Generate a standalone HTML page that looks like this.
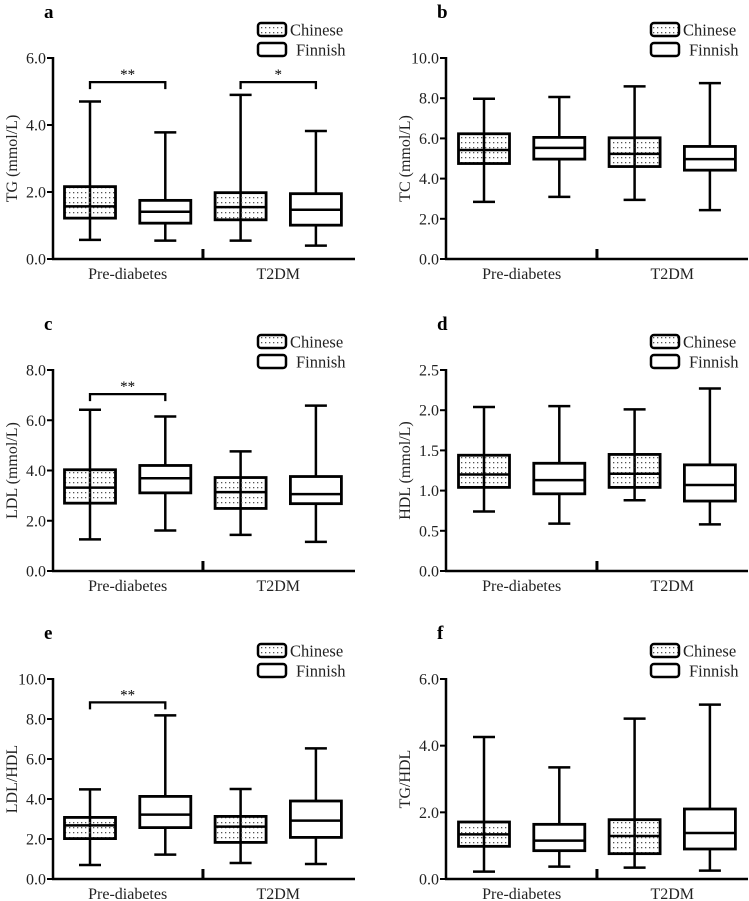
<!DOCTYPE html>
<html><head><meta charset="utf-8">
<style>
html,body{margin:0;padding:0;background:#fff;}
svg{display:block;font-family:"Liberation Serif",serif;}
svg text{font-family:"Liberation Serif",serif;}
</style></head>
<body>
<svg id="fig" width="749" height="901" viewBox="0 0 749 901" xmlns="http://www.w3.org/2000/svg" font-family="Liberation Serif, serif">
<defs>
<pattern id="dots" patternUnits="userSpaceOnUse" width="4" height="5">
<rect x="1" y="2" width="1.3" height="1.3" fill="#555"/>
</pattern>
</defs>
</svg>
<script>
// shared categories
const groups = ["Pre-diabetes", "T2DM"];
const seriesNames = ["Chinese", "Finnish"];
// each array: [Chinese-Pre, Finnish-Pre, Chinese-T2DM, Finnish-T2DM]
const tgMin = [0.57, 0.55, 0.55, 0.40];
const tgQ1 = [1.22, 1.07, 1.17, 1.01];
const tgMed = [1.57, 1.41, 1.55, 1.47];
const tgQ3 = [2.16, 1.75, 1.98, 1.95];
const tgMax = [4.70, 3.78, 4.90, 3.82];
const tgTicks = ["0.0", "2.0", "4.0", "6.0"];

const tcMin = [2.84, 3.09, 2.94, 2.43];
const tcQ1 = [4.75, 4.97, 4.60, 4.42];
const tcMed = [5.42, 5.53, 5.23, 4.97];
const tcQ3 = [6.23, 6.05, 6.03, 5.60];
const tcMax = [7.97, 8.06, 8.59, 8.75];
const tcTicks = ["0.0", "2.0", "4.0", "6.0", "8.0", "10.0"];

const ldlMin = [1.26, 1.61, 1.44, 1.16];
const ldlQ1 = [2.70, 3.11, 2.49, 2.68];
const ldlMed = [3.32, 3.69, 3.14, 3.06];
const ldlQ3 = [4.03, 4.20, 3.72, 3.76];
const ldlMax = [6.42, 6.15, 4.76, 6.58];
const ldlTicks = ["0.0", "2.0", "4.0", "6.0", "8.0"];

const hdlMin = [0.74, 0.59, 0.88, 0.58];
const hdlQ1 = [1.04, 0.96, 1.04, 0.87];
const hdlMed = [1.20, 1.13, 1.21, 1.07];
const hdlQ3 = [1.44, 1.34, 1.45, 1.32];
const hdlMax = [2.04, 2.05, 2.01, 2.27];
const hdlTicks = ["0.0", "0.5", "1.0", "1.5", "2.0", "2.5"];

const lhMin = [0.70, 1.22, 0.80, 0.75];
const lhQ1 = [2.02, 2.57, 1.83, 2.08];
const lhMed = [2.68, 3.22, 2.62, 2.92];
const lhQ3 = [3.08, 4.13, 3.13, 3.90];
const lhMax = [4.48, 8.18, 4.50, 6.53];
const lhTicks = ["0.0", "2.0", "4.0", "6.0", "8.0", "10.0"];

const thMin = [0.22, 0.37, 0.34, 0.25];
const thQ1 = [0.98, 0.85, 0.76, 0.90];
const thMed = [1.34, 1.15, 1.29, 1.38];
const thQ3 = [1.71, 1.64, 1.78, 2.10];
const thMax = [4.26, 3.35, 4.81, 5.23];
const thTicks = ["0.0", "2.0", "4.0", "6.0"];

// significance brackets: [group index, bracket value, label]
const tgSig = [[0, 5.28, "**"], [1, 5.28, "*"]];
const ldlSig = [[0, 7.04, "**"]];
const lhSig = [[0, 8.83, "**"]];

const NS = "http://www.w3.org/2000/svg";
const svg = document.getElementById("fig");
function mk(tag, attrs, parent) {
  const e = document.createElementNS(NS, tag);
  for (const k in attrs) e.setAttribute(k, attrs[k]);
  if (tag === "text") e.setAttribute("font-family", "Liberation Serif, serif");
  (parent || svg).appendChild(e);
  return e;
}

function panel(o) {
  const g = mk("g", {});
  
  
  const ymax = parseFloat(o.ticks[o.ticks.length - 1]);
  const y = v => o.zero - (v / ymax) * (o.zero - o.top);
  const xc = i => o.ax + o.off + i * 75.3;
  const sw = 2.5;
  const L = mk("text", {x: o.ax - 9, y: o.top - 40, "font-size": 19, "font-weight": "bold"}, g);
  L.textContent = o.letter;
  
  
  const ya = mk("g", {}, g);
  
  
  mk("line", {x1: o.ax, y1: o.top - 1, x2: o.ax, y2: o.zero, stroke: "#000", "stroke-width": sw}, ya);
  o.ticks.forEach(t => {
    const ty = y(parseFloat(t));
    mk("line", {x1: o.ax - 6, y1: ty, x2: o.ax, y2: ty, stroke: "#000", "stroke-width": 2}, ya);
    const tt = mk("text", {x: o.ax - 7, y: ty + 5.5, "font-size": 16, "text-anchor": "end", fill: "#222"}, ya);
    tt.textContent = t;
    
    
  });
  const yt = mk("text", {x: 0, y: 0, "font-size": 16, "text-anchor": "middle", fill: "#222",
    transform: "translate(" + (o.ax - 36) + "," + ((o.top + o.zero) / 2) + ") rotate(-90)"}, g);
  yt.textContent = o.title;
  
  
  const xa = mk("g", {}, g);
  
  
  mk("line", {x1: o.ax - 1, y1: o.zero, x2: o.ax + 302, y2: o.zero, stroke: "#000", "stroke-width": sw}, xa);
  const dv = (xc(1) + xc(2)) / 2;
  mk("line", {x1: dv, y1: o.zero - 10, x2: dv, y2: o.zero, stroke: "#000", "stroke-width": 3}, xa);
  groups.forEach((gn, gi) => {
    const t = mk("text", {x: (xc(gi * 2) + xc(gi * 2 + 1)) / 2, y: o.zero + 20, "font-size": 16, "text-anchor": "middle", fill: "#222"}, xa);
    t.textContent = gn;
    
    
  });
  for (let i = 0; i < 4; i++) {
    const b = mk("g", {}, g);
    
    
    const cx = xc(i), hw = 25.5, cw = 11;
    mk("line", {x1: cx, y1: y(o.max[i]), x2: cx, y2: y(o.min[i]), stroke: "#000", "stroke-width": sw}, b);
    mk("line", {x1: cx - cw, y1: y(o.max[i]), x2: cx + cw, y2: y(o.max[i]), stroke: "#000", "stroke-width": sw}, b);
    mk("line", {x1: cx - cw, y1: y(o.min[i]), x2: cx + cw, y2: y(o.min[i]), stroke: "#000", "stroke-width": sw}, b);
    mk("rect", {x: cx - hw, y: y(o.q3[i]), width: 2 * hw, height: y(o.q1[i]) - y(o.q3[i]),
      fill: i % 2 === 0 ? "url(#dots)" : "#fff", stroke: "#000", "stroke-width": 2.8}, b);
    mk("line", {x1: cx - hw, y1: y(o.med[i]), x2: cx + hw, y2: y(o.med[i]), stroke: "#000", "stroke-width": 2.5}, b);
  }
  (o.sig || []).forEach(s => {
    const sg = mk("g", {}, g);
    
    
    const x1 = xc(s[0] * 2), x2 = xc(s[0] * 2 + 1), by = y(s[1]);
    mk("path", {d: "M" + x1 + "," + (by + 7) + " V" + by + " H" + x2 + " V" + (by + 7), fill: "none", stroke: "#000", "stroke-width": 2.3}, sg);
    const st = mk("text", {x: (x1 + x2) / 2, y: by - 3, "font-size": 15, "text-anchor": "middle"}, sg);
    st.textContent = s[2];
  });
  const lg = mk("g", {}, g);
  
  
  seriesNames.forEach((n, i) => {
    const ly = o.top - 35 + i * 20;
    const e = mk("g", {}, lg);
    
    
    mk("rect", {x: o.ax + 205, y: ly, width: 28, height: 13, rx: 3, fill: i === 0 ? "url(#dots)" : "#fff", stroke: "#000", "stroke-width": 2.5}, e);
    const t = mk("text", {x: o.ax + (i === 0 ? 237 : 243), y: ly + 12.5, "font-size": 16.5, fill: "#222"}, e);
    t.textContent = n;
  });
}

panel({letter: "a", ax: 53, top: 58, zero: 259, off: 37, title: "TG (mmol/L)", ticks: tgTicks, min: tgMin, q1: tgQ1, med: tgMed, q3: tgQ3, max: tgMax, sig: tgSig});
panel({letter: "b", ax: 446, top: 58, zero: 259, off: 38, title: "TC (mmol/L)", ticks: tcTicks, min: tcMin, q1: tcQ1, med: tcMed, q3: tcQ3, max: tcMax});
panel({letter: "c", ax: 53, top: 370, zero: 571, off: 37, title: "LDL (mmol/L)", ticks: ldlTicks, min: ldlMin, q1: ldlQ1, med: ldlMed, q3: ldlQ3, max: ldlMax, sig: ldlSig});
panel({letter: "d", ax: 446, top: 370, zero: 571, off: 38, title: "HDL (mmol/L)", ticks: hdlTicks, min: hdlMin, q1: hdlQ1, med: hdlMed, q3: hdlQ3, max: hdlMax});
panel({letter: "e", ax: 53, top: 679, zero: 879, off: 37, title: "LDL/HDL", ticks: lhTicks, min: lhMin, q1: lhQ1, med: lhMed, q3: lhQ3, max: lhMax, sig: lhSig});
panel({letter: "f", ax: 446, top: 679, zero: 879, off: 38, title: "TG/HDL", ticks: thTicks, min: thMin, q1: thQ1, med: thMed, q3: thQ3, max: thMax});
</script>
</body></html>
